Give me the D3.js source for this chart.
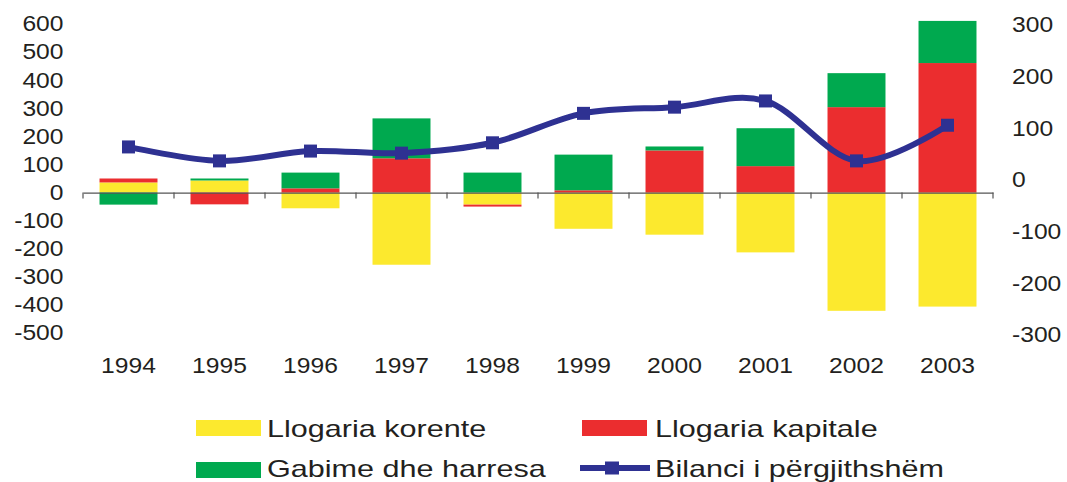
<!DOCTYPE html>
<html>
<head>
<meta charset="utf-8">
<script src="https://cdn.jsdelivr.net/npm/d3@7"></script>
<style>
  html, body { margin: 0; padding: 0; background: #fff; }
  svg { display: block; font-family: "Liberation Sans", Arial, Helvetica, sans-serif; }
</style>
</head>
<body>
<svg id="chart" width="1067" height="482"></svg>
<script>
const years = ["1994","1995","1996","1997","1998","1999","2000","2001","2002","2003"];
const llogariaKorente = [36, 43, -56, -257, -43, -129, -150, -213, -421, -406];
const llogariaKapitale = [14, -42, 15, 122, -7, 8, 150, 94, 304, 461];
const gabimeDheHarresa = [-43, 7, 56, 142, 71, 127, 14, 135, 121, 150];
const bilanci = [64, 37, 56, 52, 72, 129, 141, 153, 37, 106];
const leftTicks = [-500, -400, -300, -200, -100, 0, 100, 200, 300, 400, 500, 600];
const rightTicks = [-300, -200, -100, 0, 100, 200, 300];
const seriesNames = ["Llogaria korente", "Llogaria kapitale", "Gabime dhe harresa", "Bilanci i përgjithshëm"];
const colors = ["#FCE92E", "#EB2D2F", "#00A94F", "#2E3192"];

const svg = d3.select("#chart");
const textColor = "#231F20";
const axisFont = 21.5, axisSX = 1.145;
const legFont = 23, legSX = 1.33;

const x = d3.scaleBand().domain(years).range([83, 993]).paddingInner(0.363).paddingOuter(0.1815);
const yL = d3.scaleLinear().domain([-500, 600]).range([333, 24]);
const yR = d3.scaleLinear().domain([-300, 300]).range([335, 25]);

// stacked bars
const keys = ["k", "c", "g"];
const rows = years.map((yr, i) => ({ year: yr, k: llogariaKorente[i], c: llogariaKapitale[i], g: gabimeDheHarresa[i] }));
const stack = d3.stack().keys(keys).offset(d3.stackOffsetDiverging);
const layers = stack(rows);

svg.append("g").selectAll("g").data(layers).join("g")
  .attr("fill", (d, i) => colors[i])
  .selectAll("rect").data(d => d).join("rect")
  .attr("x", d => x(d.data.year))
  .attr("width", x.bandwidth())
  .attr("y", d => yL(Math.max(d[0], d[1])))
  .attr("height", d => Math.abs(yL(d[0]) - yL(d[1])));

// category axis at zero
const xAxis = d3.axisBottom(x).tickSize(0).tickFormat("");
const axG = svg.append("g").attr("transform", `translate(0,${yL(0)})`);
axG.call(xAxis);
axG.select(".domain").attr("stroke", "#555").attr("stroke-width", 1.2);
const step = x.step();
const bounds = years.map(y => x(y) - x.paddingInner() * step / 2).concat([x.range()[1]]);
bounds[0] = x.range()[0];
axG.selectAll("line.bt").data(bounds).join("line")
  .attr("class", "bt")
  .attr("x1", d => d).attr("x2", d => d)
  .attr("y1", 0).attr("y2", 6)
  .attr("stroke", "#555").attr("stroke-width", 1.2);

// year labels
svg.append("g").selectAll("g").data(years).join("g")
  .attr("transform", d => `translate(${x(d) + x.bandwidth() / 2},373) scale(${axisSX},1)`)
  .append("text")
  .attr("text-anchor", "middle")
  .attr("font-size", axisFont)
  .attr("fill", textColor)
  .text(d => d);

// left axis labels
const leftAxis = d3.axisLeft(yL).tickValues(leftTicks).tickSize(0).tickPadding(0).tickFormat(d => String(d));
const lg = svg.append("g").attr("transform", "translate(63.5,0)").call(leftAxis);
lg.select(".domain").remove();
lg.selectAll("text").attr("font-size", axisFont).attr("fill", textColor)
  .attr("font-family", "'Liberation Sans', Arial, sans-serif")
  .attr("x", 0).attr("transform", `scale(${axisSX},1)`);

// right axis labels
const rightAxis = d3.axisRight(yR).tickValues(rightTicks).tickSize(0).tickPadding(0).tickFormat(d => String(d));
const rg = svg.append("g").attr("transform", "translate(1012,0)").call(rightAxis);
rg.select(".domain").remove();
rg.selectAll("text").attr("font-size", axisFont).attr("fill", textColor)
  .attr("font-family", "'Liberation Sans', Arial, sans-serif")
  .attr("x", 0).attr("transform", `scale(${axisSX},1)`);

// line
const cx = d => x(d) + x.bandwidth() / 2;
const line = d3.line()
  .x((d, i) => cx(years[i]))
  .y(d => yR(d))
  .curve(d3.curveCardinal.tension(0));
svg.append("path")
  .datum(bilanci)
  .attr("d", line)
  .attr("fill", "none")
  .attr("stroke", colors[3])
  .attr("stroke-width", 6)
  .attr("stroke-linejoin", "round");
svg.append("g").selectAll("rect").data(bilanci).join("rect")
  .attr("x", (d, i) => cx(years[i]) - 6.5)
  .attr("y", d => yR(d) - 6.5)
  .attr("width", 13).attr("height", 13)
  .attr("fill", colors[3]);

// legend
const legend = [
  { name: seriesNames[0], color: colors[0], type: "box", x: 196, y: 428, tx: 267, ty: 437 },
  { name: seriesNames[1], color: colors[1], type: "box", x: 582, y: 428, tx: 655, ty: 437 },
  { name: seriesNames[2], color: colors[2], type: "box", x: 196, y: 470, tx: 267, ty: 476.5 },
  { name: seriesNames[3], color: colors[3], type: "line", x: 580, y: 468, tx: 655, ty: 476.5 }
];
const lgG = svg.append("g").selectAll("g").data(legend).join("g");
lgG.each(function(d) {
  const g = d3.select(this);
  if (d.type === "box") {
    g.append("rect").attr("x", d.x).attr("y", d.y - 8).attr("width", 65).attr("height", 16).attr("fill", d.color);
  } else {
    g.append("line").attr("x1", d.x).attr("x2", d.x + 70).attr("y1", d.y).attr("y2", d.y)
      .attr("stroke", d.color).attr("stroke-width", 6);
    g.append("rect").attr("x", d.x + 32 - 7).attr("y", d.y - 6.5).attr("width", 14).attr("height", 13).attr("fill", d.color);
  }
  g.append("g").attr("transform", `translate(${d.tx},${d.ty}) scale(${legSX},1)`)
    .append("text")
    .attr("font-size", legFont).attr("fill", textColor).text(d.name);
});
</script>
</body>
</html>
